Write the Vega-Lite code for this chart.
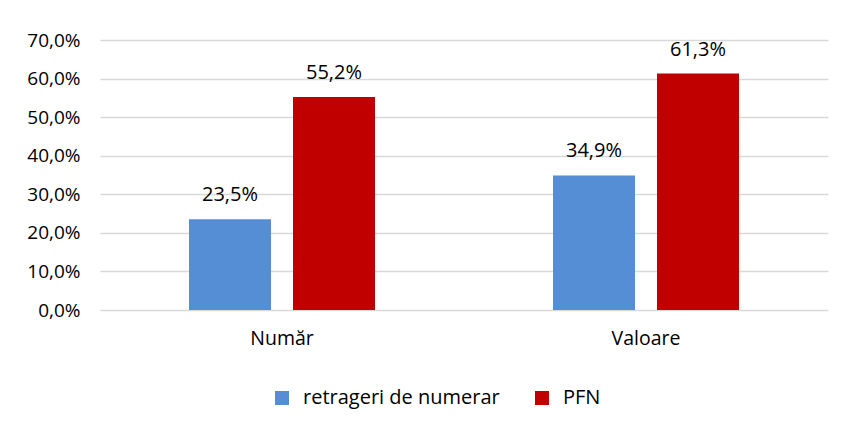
{
  "$schema": "https://vega.github.io/schema/vega-lite/v6.json",
  "width": 728,
  "height": 270,
  "autosize": {"type": "none"},
  "padding": {"left": 100, "top": 40, "right": 15, "bottom": 113},
  "background": "white",
  "config": {
    "locale": {"number": {"decimal": ",", "thousands": ".", "grouping": [3], "currency": ["", " lei"]}},
    "font": "Open Sans",
    "view": {"stroke": null}
  },
  "data": {
    "values": [
      {"categorie": "Număr", "serie": "retrageri de numerar", "valoare": 0.235},
      {"categorie": "Număr", "serie": "PFN", "valoare": 0.552},
      {"categorie": "Valoare", "serie": "retrageri de numerar", "valoare": 0.349},
      {"categorie": "Valoare", "serie": "PFN", "valoare": 0.613}
    ]
  },
  "encoding": {
    "x": {
      "field": "categorie",
      "type": "nominal",
      "sort": ["Număr", "Valoare"],
      "scale": {"paddingInner": 0.489, "paddingOuter": 0.2445},
      "axis": {
        "title": null,
        "labelAngle": 0,
        "ticks": false,
        "domain": false,
        "labelFontSize": 19.5,
        "labelColor": "#000000",
        "labelPadding": 19
      }
    },
    "xOffset": {
      "field": "serie",
      "type": "nominal",
      "sort": ["retrageri de numerar", "PFN"],
      "scale": {"paddingInner": 0.2115, "paddingOuter": 0}
    },
    "y": {
      "field": "valoare",
      "type": "quantitative",
      "scale": {"domain": [0, 0.7], "nice": false},
      "axis": {
        "title": null,
        "format": ".1%",
        "values": [0, 0.1, 0.2, 0.3, 0.4, 0.5, 0.6, 0.7],
        "labelOverlap": false,
        "ticks": false,
        "domain": false,
        "labelFontSize": 19,
        "labelColor": "#000000",
        "labelPadding": 20,
        "gridColor": "#D9D9D9",
        "gridWidth": 1.5
      }
    }
  },
  "layer": [
    {
      "mark": {"type": "bar"},
      "encoding": {
        "color": {
          "field": "serie",
          "type": "nominal",
          "sort": ["retrageri de numerar", "PFN"],
          "scale": {"domain": ["retrageri de numerar", "PFN"], "range": ["#558ED5", "#C00000"]},
          "legend": {
            "title": null,
            "orient": "none",
            "legendX": 172,
            "legendY": 348,
            "direction": "horizontal",
            "symbolType": "square",
            "symbolSize": 196,
            "symbolStrokeWidth": 0,
            "labelFontSize": 20,
            "labelLimit": 400,
            "labelColor": "#000000",
            "labelOffset": 11,
            "columnPadding": 32,
            "padding": 0
          }
        }
      }
    },
    {
      "mark": {"type": "text", "baseline": "alphabetic", "dy": -18, "fontSize": 20, "color": "#000000"},
      "encoding": {
        "text": {"field": "valoare", "type": "quantitative", "format": ".1%"}
      }
    }
  ]
}
